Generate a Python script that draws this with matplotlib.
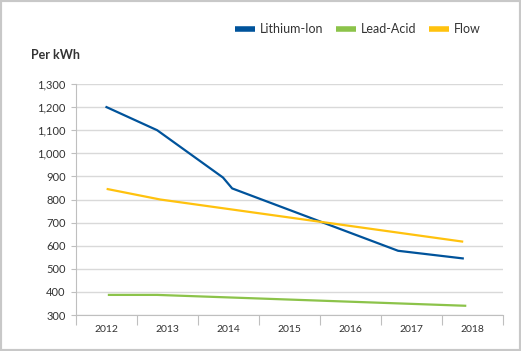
import matplotlib
matplotlib.use('Agg')
import matplotlib.pyplot as plt
import matplotlib.patches as patches
from matplotlib.lines import Line2D

plt.rcParams['font.family'] = ['Lato', 'DejaVu Sans']

# Data (x positions in years)
years = [2012, 2013, 2014, 2015, 2016, 2017, 2018]
lithium_x = [2012.0, 2012.83, 2013.91, 2014.06, 2016.78, 2017.84]
lithium_y = [1200, 1100, 895, 848, 578, 545]
lead_x = [2012.04, 2012.83, 2017.88]
lead_y = [387, 387, 340]
flow_x = [2012.02, 2012.88, 2017.83]
flow_y = [845, 800, 618]
y_ticks = [300, 400, 500, 600, 700, 800, 900, 1000, 1100, 1200, 1300]

BLUE = '#00539b'
GREEN = '#8cc34a'
YELLOW = '#ffc20e'
GRID = '#d9d9d9'
AXIS = '#bfbfbf'
TEXT = '#333333'

fig = plt.figure(figsize=(5.21, 3.51), dpi=100)
ax = fig.add_axes([76 / 521, 1 - 315 / 351, 427 / 521, 231 / 351])

ax.plot(lithium_x, lithium_y, color=BLUE, lw=1.6, solid_joinstyle='round')
ax.plot(lead_x, lead_y, color=GREEN, lw=1.6, solid_joinstyle='round')
ax.plot(flow_x, flow_y, color=YELLOW, lw=1.6, solid_joinstyle='round')

ax.set_xlim(2011.5, 2018.5)
ax.set_ylim(300, 1300)

# y axis
ax.set_yticks(y_ticks)
ax.set_yticklabels([f'{v:,}' for v in y_ticks], fontsize=8, color=TEXT)
ax.tick_params(axis='y', length=3.5, width=0.8, color=AXIS, pad=4)
ax.yaxis.grid(True, color=GRID, lw=1)
ax.set_axisbelow(True)

# x axis: labels at centres, tick marks at boundaries
ax.set_xticks(years)
ax.set_xticklabels([str(y) for y in years], fontsize=7.5, color=TEXT)
ax.set_xticks([y - 0.5 for y in years] + [2018.5], minor=True)
ax.tick_params(axis='x', which='major', length=0, pad=7)
ax.tick_params(axis='x', which='minor', length=7.5, width=0.8, color=AXIS)

for side in ['top', 'right']:
    ax.spines[side].set_visible(False)
ax.spines['left'].set_color(AXIS)
ax.spines['bottom'].set_color(AXIS)

fig.text(31 / 521, 1 - 55 / 351, 'Per kWh', fontsize=9, fontweight='bold',
         color=TEXT, va='center', ha='left')

handles = [Line2D([], [], color=c, lw=4, solid_capstyle='butt')
           for c in (BLUE, GREEN, YELLOW)]
fig.legend(handles, ['Lithium-Ion', 'Lead-Acid', 'Flow'], loc='center left',
           bbox_to_anchor=(229 / 521, 1 - 29 / 351), ncol=3, frameon=False,
           fontsize=9, handlelength=1.6, handletextpad=0.4,
           columnspacing=1.0, borderpad=0, labelcolor=TEXT)

# light frame around the figure
fig.patches.append(patches.Rectangle((0, 0), 1, 1, transform=fig.transFigure,
                                     fill=False, edgecolor='#c8c8c8', lw=3))

fig.savefig('out.png', dpi=100)
